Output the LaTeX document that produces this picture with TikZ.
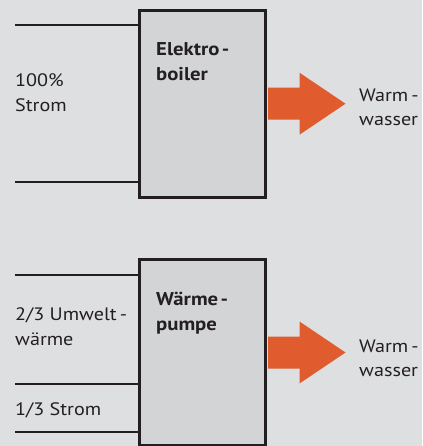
\documentclass[tikz,border=0pt]{standalone}
\usepackage{fontspec}
\setmainfont{PT Sans}[FakeStretch=1.12]
\usepackage{tikz}
\usetikzlibrary{positioning,calc}

\definecolor{hgrund}{HTML}{DEDFE0}
\definecolor{kasten}{HTML}{D3D4D6}
\definecolor{linie}{HTML}{231F20}
\definecolor{orange}{HTML}{E05B2E}

\begin{document}
\begin{tikzpicture}[
    x=1pt, y=-1pt,
    geraet/.style={rectangle, draw=linie, fill=kasten, line width=3pt, minimum width=126pt, minimum height=187pt, inner sep=0pt},
    geraettext/.style={anchor=base west, align=left, inner sep=0pt, text=linie, font=\fontsize{18.5}{25}\selectfont\bfseries},
    quelle/.style={anchor=base west, align=left, inner sep=0pt, text=linie, font=\fontsize{18}{25}\selectfont},
    ziel/.style={anchor=base west, align=left, inner sep=0pt, text=linie, font=\fontsize{18}{24}\selectfont},
    zufuhr/.style={draw=linie, line width=1.5pt},
    pfeil/.style={fill=orange}
]

% Hintergrund
\fill[hgrund] (0,0) rectangle (422,446);
\useasboundingbox (0,0) rectangle (422,446);

% Elektroboiler
\node[geraet] (elek) at (202,103.7) {};
\node[geraettext] (elektxt) at (156,81) {Elektro\kern2.5pt-\\boiler};
\coordinate (e1) at (15,25);
\coordinate (e2) at (15,182);
\draw[zufuhr] (e1) -- (e1 -| elek.west);
\draw[zufuhr] (e2) -- (e2 -| elek.west);
\node[quelle] (strom) at (15,112) {100\%\\Strom};
\fill[pfeil] (elek.east) ++(1.5,-16) -- ++(31.5,0) -- ++(0,-15) -- ++(46,31)
    -- ++(-46,31) -- ++(0,-15) -- ++(-31.5,0) -- cycle;
\node[ziel] (warm1) at (359,126) {Warm\kern3pt-\\wasser};

% Waermepumpe
\node[geraet, minimum height=186pt] (wp) at (202,352.5) {};
\node[geraettext] (wptxt) at (156,330) {Wärme\kern2.5pt-\\pumpe};
\coordinate (w1) at (15,275);
\coordinate (w2) at (15,384);
\coordinate (w3) at (15,432);
\draw[zufuhr] (w1) -- (w1 -| wp.west);
\draw[zufuhr] (w2) -- (w2 -| wp.west);
\draw[zufuhr] (w3) -- (w3 -| wp.west);
\node[quelle] (umwelt) at (15,345) {2/3 Umwelt\kern3pt-\\wärme};
\node[quelle] (strom2) at (15,415) {1/3 Strom};
\fill[pfeil] (wp.east) ++(1.5,-16) -- ++(31.5,0) -- ++(0,-15) -- ++(46,31)
    -- ++(-46,31) -- ++(0,-15) -- ++(-31.5,0) -- cycle;
\node[ziel] (warm2) at (359,376) {Warm\kern3pt-\\wasser};

\end{tikzpicture}
\end{document}
